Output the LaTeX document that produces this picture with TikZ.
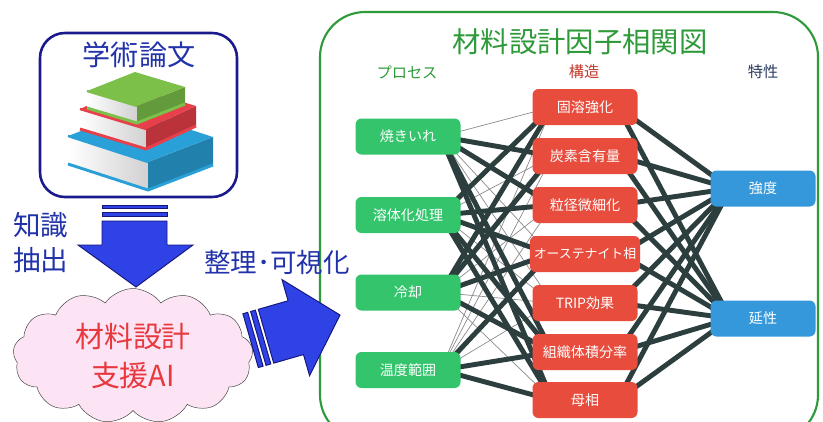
\documentclass[tikz,border=0pt]{standalone}
\usepackage{fontspec}
\setmainfont{Noto Sans CJK JP}
\usepackage{xcolor}
\usepackage{tikz}
\usetikzlibrary{calc,backgrounds,shapes.symbols}
\definecolor{mdNavy}{HTML}{1A1A8C}
\definecolor{mdInk}{HTML}{2233AA}
\definecolor{mdArrow}{HTML}{2F42E6}
\definecolor{mdArrowEdge}{HTML}{15157A}
\definecolor{mdPink}{HTML}{FCE4F4}
\definecolor{mdCloudText}{HTML}{E8383D}
\definecolor{mdFrame}{HTML}{2E9A3A}
\definecolor{mdGreen}{HTML}{33C46C}
\definecolor{mdRed}{HTML}{E74C3C}
\definecolor{mdBlue}{HTML}{3498DB}
\definecolor{mdSlate}{HTML}{2C3E3E}
\definecolor{mdProp}{HTML}{2C3E60}
\definecolor{mdStruct}{HTML}{C0392B}
\definecolor{bkGreen}{HTML}{7CC04A}
\definecolor{bkRed}{HTML}{E8404A}
\definecolor{bkBlue}{HTML}{2AA0D8}

\newcommand{\paperbook}[5]{%
  \shade[left color=white, right color=black!18] #1 -- #2 -- ($#2+(0,#4)$) -- ($#1+(0,#4)$) -- cycle;
  \fill[#5!80!black] #2 -- #3 -- ($#3+(0,#4)$) -- ($#2+(0,#4)$) -- cycle;
  \fill[#5] #1 -- ($#1+#3-#2$) -- #3 -- #2 -- cycle;
  \draw[#5, line width=2pt, line join=round] #1 -- #2;
  \draw[#5, line width=2.5pt, line join=round] ($#1+(0,#4)$) -- ($#2+(0,#4)$) -- ($#3+(0,#4)$);
}

\begin{document}
\begin{tikzpicture}[x=0.03cm, y=-0.03cm,
  proc/.style={fill=mdGreen, text=white, rounded corners=0.18cm, minimum width=3.15cm, minimum height=1.08cm, font=\fontsize{12}{14}\selectfont},
  struct/.style={proc, fill=mdRed},
  prop/.style={proc, fill=mdBlue},
  head/.style={font=\fontsize{13}{15}\selectfont},
  strong/.style={draw=mdSlate, line width=4.2pt},
  weak/.style={draw=black!45, line width=0.6pt},
  blockarrow/.style={fill=mdArrow, draw=mdArrowEdge, line width=0.8pt, line join=miter}]
  \useasboundingbox (0,0) rectangle (823,421);

  \node[draw=mdNavy, line width=2.2pt, rounded corners=0.75cm, minimum width=5.91cm, minimum height=4.92cm] (paper) at (138.5,115) {};
  \node[text=mdInk, font=\fontsize{24}{28}\selectfont] (papertitle) at (139,55) {学術論文};
  \paperbook{(68,136)}{(148,162)}{(213,137)}{28}{bkBlue}
  \paperbook{(80,109)}{(146,129)}{(196,106)}{20}{bkRed}
  \paperbook{(87,91)}{(137,106)}{(185,87)}{17}{bkGreen}

  \node[text=mdInk, align=left, anchor=west, inner sep=0pt, font=\fontsize{23.5}{30}\selectfont] (extract) at (13,242.5) {知識\\抽出};

  \node[cloud, cloud puffs=13, cloud puff arc=110, aspect=1.9, draw=black!75, fill=mdPink, minimum width=7.2cm, minimum height=4.05cm, align=center, text=mdCloudText, font=\fontsize{24.7}{34}\selectfont] (ai) at (133,356) {材料設計\\支援AI};

  \fill[blockarrow] (102,205) rectangle (167,208.5);
  \fill[blockarrow] (102,212) rectangle (167,216);
  \filldraw[blockarrow] (102,221) -- (167,221) -- (167,245) -- (193,245) -- (136,287) -- (78,245) -- (102,245) -- cycle;

  \draw[mdFrame, line width=1.8pt, rounded corners=1.35cm] (320,12) rectangle (818,440);
  \node[text=mdFrame, font=\fontsize{24.2}{28}\selectfont] (maptitle) at (580,42) {材料設計因子相関図};
  \node[head, text=mdFrame] (hproc) at (407,72) {プロセス};
  \node[head, text=mdStruct] (hstruct) at (584,72) {構造};
  \node[head, text=mdProp] (hprop) at (763,72) {特性};

  \begin{scope}[shift={(340,315)}, rotate=16]
    \filldraw[blockarrow] (-80,-28) rectangle (-85,28);
    \filldraw[blockarrow] (-88,-28) rectangle (-93,28);
    \filldraw[blockarrow] (0,0) -- (-46,-50) -- (-46,-28) -- (-77,-28) -- (-77,28) -- (-46,28) -- (-46,50) -- cycle;
  \end{scope}
  \node[text=mdInk, font=\fontsize{22.6}{26}\selectfont] (tidy) at (277,262) {整理･可視化};

  \node[proc] (p1) at (408,136.5) {焼きいれ};
  \node[proc] (p2) at (408,215) {溶体化処理};
  \node[proc] (p3) at (408,292.5) {冷却};
  \node[proc] (p4) at (408,370) {温度範囲};

  \node[struct] (s1) at (585,107) {固溶強化};
  \node[struct] (s2) at (585,156) {炭素含有量};
  \node[struct] (s3) at (585,205) {粒径微細化};
  \node[struct, font=\fontsize{11}{13}\selectfont] (s4) at (585,254) {オーステナイト相};
  \node[struct] (s5) at (585,303) {TRIP効果};
  \node[struct] (s6) at (585,352) {組織体積分率};
  \node[struct] (s7) at (585,400) {母相};

  \node[prop] (t1) at (763,188.5) {強度};
  \node[prop] (t2) at (763,318.5) {延性};

  \begin{pgfonlayer}{background}
    \fill[white] (0,0) rectangle (823,421);
    \foreach \a/\b in {p1/s1,p1/s4,p1/s5,p2/s2,p2/s5,p3/s3,p3/s5,p3/s7,p4/s1,p4/s2,p4/s3,p4/s5}
      \draw[weak] ([xshift=-0.6cm]\a.east) -- ([xshift=0.6cm]\b.west);
    \foreach \a/\b in {p1/s2,p1/s3,p1/s6,p1/s7,p2/s1,p2/s3,p2/s4,p2/s6,p2/s7,p3/s1,p3/s2,p3/s4,p3/s6,p4/s4,p4/s6,p4/s7}
      \draw[strong] ([xshift=-0.6cm]\a.east) -- ([xshift=0.6cm]\b.west);
    \foreach \a in {s1,s2,s3,s4,s5,s6,s7}
      \foreach \b in {t1,t2}
        \draw[strong] ([xshift=-0.6cm]\a.east) -- ([xshift=0.6cm]\b.west);
  \end{pgfonlayer}
\end{tikzpicture}
\end{document}
